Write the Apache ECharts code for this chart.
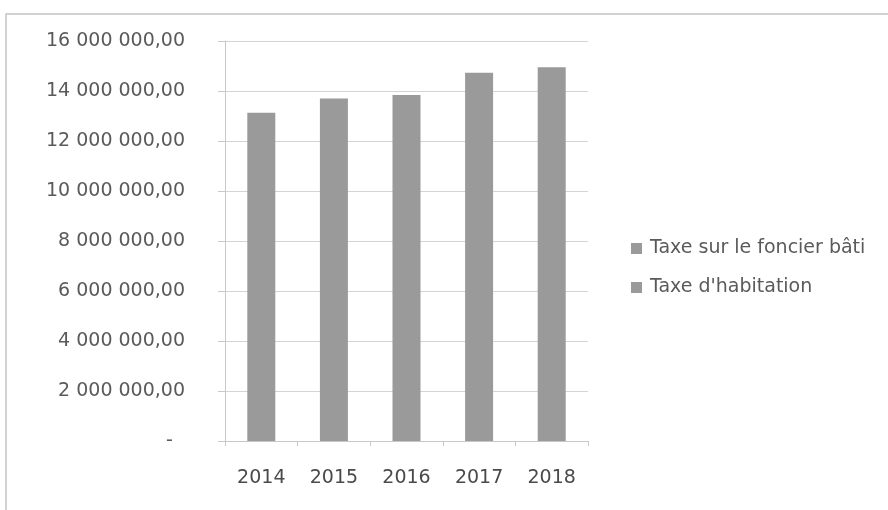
<!DOCTYPE html>
<html>
<head>
<meta charset="utf-8">
<script src="https://cdn.jsdelivr.net/npm/echarts@6/dist/echarts.min.js"></script>
<style>
  html, body { margin: 0; padding: 0; background: #fff; }
  #main { width: 888px; height: 510px; }
</style>
</head>
<body>
<div id="main"></div>
<script>
// values (stacked bars, both series grey)
var years = ['2014', '2015', '2016', '2017', '2018'];
var foncierBati = [6880000, 7200000, 7320000, 7800000, 7960000];
var habitation = [6250000, 6500000, 6520000, 6930000, 6990000];
var seriesNames = ['Taxe sur le foncier bâti', "Taxe d'habitation"];

function fmt(v) {
  if (v === 0) return '-  ';
  return String(Math.round(v)).replace(/\B(?=(\d{3})+(?!\d))/g, ' ') + ',00';
}

var barStyle = { color: '#9a9a9a' };

var myChart = echarts.init(document.getElementById('main'));
myChart.setOption({
  animation: false,
  graphic: [{
    type: 'rect',
    shape: { x: 6, y: 14, width: 900, height: 520 },
    style: { fill: 'none', stroke: '#c4c4c4', lineWidth: 1.5 }
  }],
  grid: { left: 225, right: 300, top: 41, bottom: 69 },
  legend: {
    orient: 'vertical',
    left: 626,
    top: 234,
    itemWidth: 11,
    itemHeight: 11,
    itemGap: 20,
    icon: 'rect',
    textStyle: { fontFamily: 'DejaVu Sans', fontSize: 19, color: '#5a5a5a', padding: [0, 0, 0, 3] },
    data: seriesNames
  },
  xAxis: {
    type: 'category',
    data: years,
    axisLine: { lineStyle: { color: '#c8c8c8' } },
    axisTick: { show: true, length: 5, lineStyle: { color: '#c8c8c8' } },
    axisLabel: { margin: 28, fontFamily: 'DejaVu Sans', fontSize: 19, color: '#4a4a4a' }
  },
  yAxis: {
    type: 'value',
    min: 0,
    max: 16000000,
    interval: 2000000,
    axisLine: { show: true, lineStyle: { color: '#c8c8c8' } },
    axisTick: { show: true, length: 7, lineStyle: { color: '#c8c8c8' } },
    splitLine: { lineStyle: { color: '#d4d4d4' } },
    axisLabel: {
      margin: 40,
      fontFamily: 'DejaVu Sans',
      fontSize: 19,
      color: '#5a5a5a',
      formatter: fmt
    }
  },
  series: [{
    name: seriesNames[0],
    type: 'bar',
    stack: 'taxes',
    barWidth: 28,
    itemStyle: barStyle,
    data: foncierBati
  }, {
    name: seriesNames[1],
    type: 'bar',
    stack: 'taxes',
    barWidth: 28,
    itemStyle: barStyle,
    data: habitation
  }]
});
</script>
</body>
</html>
